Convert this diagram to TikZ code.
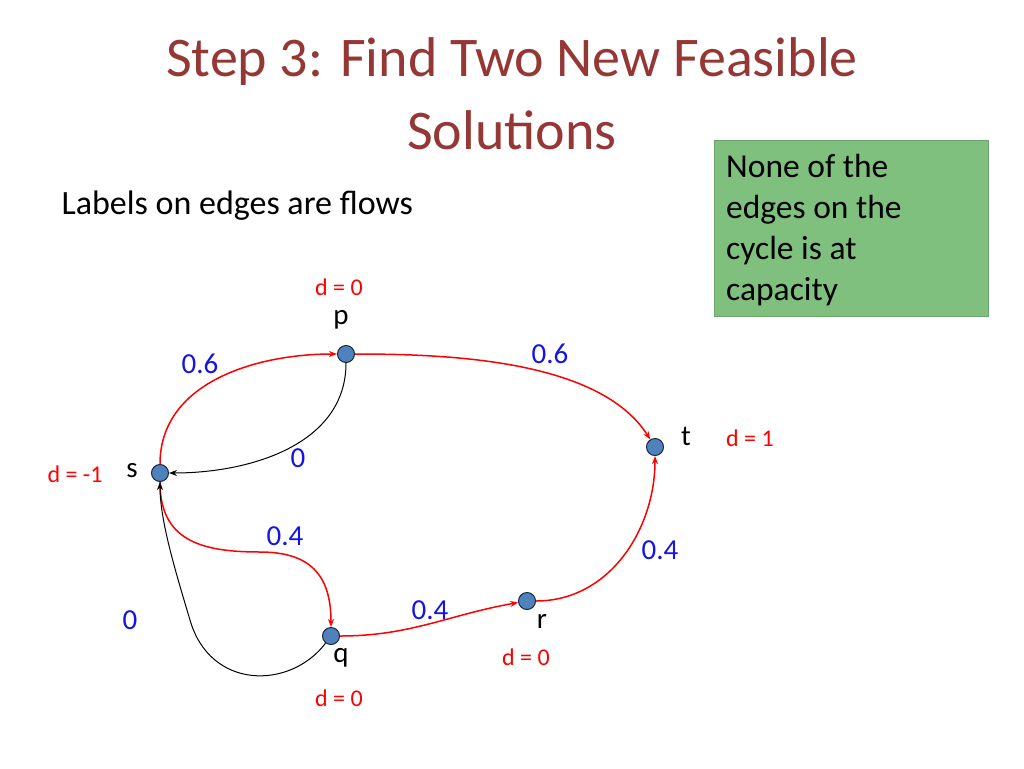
\documentclass[tikz,border=0pt]{standalone}
\usepackage{fontspec}
\setmainfont{Carlito}
\usetikzlibrary{arrows.meta}
\definecolor{titlec}{RGB}{149,55,53}
\definecolor{boxg}{RGB}{127,192,127}
\definecolor{nodeb}{RGB}{79,129,189}
\definecolor{flowb}{RGB}{20,20,230}
\begin{document}
\begin{tikzpicture}[x=1pt,y=-1pt,
  vtx/.style={circle,fill=nodeb,draw=black!70!nodeb,line width=1pt,minimum size=17pt,inner sep=0pt},
  flow/.style={text=flowb,font=\fontsize{29}{34}\selectfont},
  dlab/.style={text=red,font=\fontsize{24}{28}\selectfont},
  vlab/.style={font=\fontsize{29}{34}\selectfont},
  redE/.style={red,line width=1.5pt,-{Stealth[length=8pt,width=6pt]}},
  blkE/.style={black,line width=1pt,-{Stealth[length=8pt,width=6pt]}}]
\useasboundingbox (0,0) rectangle (1024,768);
\node[text=titlec,font=\fontsize{56}{60}\selectfont] (t1) at (512,62) {Step 3: Find Two New Feasible};
\node[text=titlec,font=\fontsize{56}{60}\selectfont] (t2) at (512,130) {Solutions};
\node[draw=boxg!85!black,fill=boxg,minimum width=274pt,minimum height=176pt,anchor=north west] (box) at (714,140) {};
\node[anchor=north west,align=left,font=\fontsize{33.5}{41}\selectfont,inner sep=0pt] (bt) at (726,154) {None of the\\edges on the\\cycle is at\\capacity};
\node[anchor=west,font=\fontsize{34}{38}\selectfont] (lab) at (58,206) {Labels on edges are flows};
\node[vtx] (p) at (346,354) {};
\node[vtx] (t) at (655,447) {};
\node[vtx] (s) at (160,473) {};
\node[vtx] (q) at (331,636) {};
\node[vtx] (r) at (527,601) {};
\draw[redE] (s) to[out=90,in=180] (p);
\draw[redE] (p) .. controls (450,354) and (600,360) .. (t);
\draw[blkE] (p) to[out=-90,in=0] (s);
\draw[redE] (s) .. controls (160,540) and (200,552) .. (260,552) .. controls (315,552) and (331,580) .. (q);
\draw[redE] (q) to[out=0,in=190] (r);
\draw[redE] (r) to[out=0,in=-90] (t);
\draw[blkE] (q) .. controls (290,690) and (210,690) .. (190,620) .. controls (175,570) and (160,520) .. (s);
\node[vlab] (lp) at (341,320) {p};
\node[vlab] (lt) at (686,436) {t};
\node[vlab] (ls) at (132,471) {s};
\node[vlab] (lr) at (542,621) {r};
\node[vlab] (lq) at (341,658) {q};
\node[flow] at (200,364) {0.6};
\node[flow] at (550,354) {0.6};
\node[flow] at (298,458) {0};
\node[flow] at (285,536) {0.4};
\node[flow] at (660,550) {0.4};
\node[flow] at (430,610) {0.4};
\node[flow] at (130,620) {0};
\node[dlab] at (339,287) {d = 0};
\node[dlab] at (750,438) {d = 1};
\node[dlab] at (75,474) {d = -1};
\node[dlab] at (526,657) {d = 0};
\node[dlab] at (339,698) {d = 0};
\end{tikzpicture}
\end{document}
